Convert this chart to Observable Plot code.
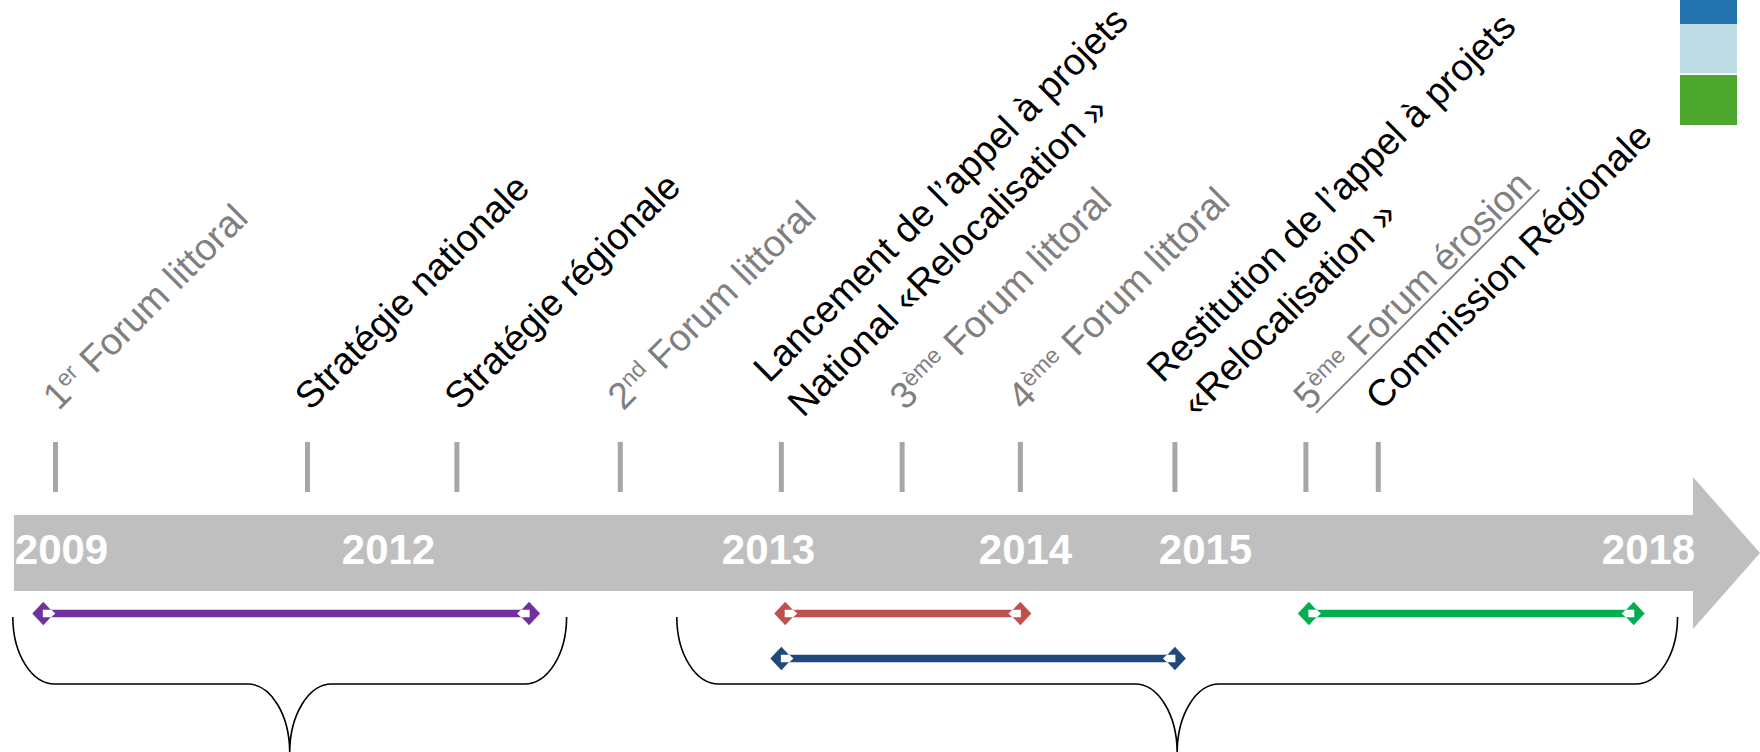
<!DOCTYPE html>
<html>
<head>
<meta charset="utf-8">
<script src="https://cdn.jsdelivr.net/npm/d3@7"></script>
<script src="https://cdn.jsdelivr.net/npm/@observablehq/plot@0.6"></script>
<style>
  html, body { margin: 0; padding: 0; background: #fff; }
  #chart svg { display: block; }
</style>
</head>
<body>
<div id="chart"></div>
<script>
// ---------------- DATA ----------------
// Year labels written on the timeline arrow (also the anchors of the piecewise time axis)
const yearLabels = [2009, 2012, 2013, 2014, 2015, 2018];

// Events (fractional year), label text ({..} = superscript), kind
const eventYears  = [2009.0, 2011.27, 2012.18, 2012.61, 2013.05, 2013.52, 2013.98, 2014.83, 2015.68, 2016.17];
const eventLabels = [
  "1{er} Forum littoral",
  "Stratégie nationale",
  "Stratégie régionale",
  "2{nd} Forum littoral",
  "Lancement de l’appel à projets\nNational «Relocalisation »",
  "3{ème} Forum littoral",
  "4{ème} Forum littoral",
  "Restitution de l’appel à projets\n«Relocalisation »",
  "5{ème} Forum érosion",
  "Commission Régionale"
];
const eventKinds = ["forum", "strategie", "strategie", "forum", "appel", "forum", "forum", "appel", "forum", "commission"];

// Period bars (start / end year, lane below the arrow)
const rangeNames = ["phase1", "phase2a", "phase2b", "phase3"];
const rangeStart = [2008.89, 2013.065, 2013.05, 2015.70];
const rangeEnd   = [2012.37, 2013.98, 2014.83, 2017.90];
const rangeLane  = [0, 0, 1, 0];

// Braces grouping the periods
const braceStart = [2008.62, 2012.76];
const braceEnd   = [2012.47, 2018.20];

// Where the arrow shaft begins
const axisStart = 2008.63;

// ---------------- STYLE / LAYOUT ----------------
const W = 1760, H = 752;
const yearPositions = [55, 388, 768, 1025, 1205, 1648]; // piecewise scale range
const L = {
  labelY: 411, tickTop: 442, tickBottom: 492,
  bandTop: 515, bandBottom: 591, headTop: 477, headBottom: 629, headLen: 67,
  yearBaseline: 563, lanes: [613, 658],
  braceTop: 617, braceHoriz: 684, braceBottom: 753
};
const rangePalette = {phase1: "#7030a0", phase2a: "#c0504d", phase2b: "#1f497d", phase3: "#00b050"};
const kindColor = k => k === "forum" ? "#7f7f7f" : "#000000";
const legendSwatches = ["#2273ae", "#bedde4", "#4ea72e"];
const FONT = "'Liberation Sans', Arial, Helvetica, sans-serif";
const svgNS = "http://www.w3.org/2000/svg";

// ---------------- TABLES ----------------
const events = eventYears.map((year, i) => ({year, label: eventLabels[i], kind: eventKinds[i]}));
const ranges = rangeNames.map((name, i) => ({name, start: rangeStart[i], end: rangeEnd[i], lane: rangeLane[i]}));
const braces = braceStart.map((s, i) => ({start: s, end: braceEnd[i]}));

// ---------------- CUSTOM SYMBOLS ----------------
const diamondSym = {draw(ctx) { ctx.moveTo(0, -11.7); ctx.lineTo(11, 0); ctx.lineTo(0, 11.7); ctx.lineTo(-11, 0); ctx.closePath(); }};
const capSym = {draw(ctx) { ctx.moveTo(-0.5, -3.7); ctx.lineTo(8, -3.7); ctx.lineTo(12, 0); ctx.lineTo(8, 3.7); ctx.lineTo(-0.5, 3.7); ctx.closePath(); }};

// ---------------- CUSTOM RENDER MARKS ----------------
function arrowMark(index, scales) {
  const x0 = scales.x(axisStart), hb = W - L.headLen, mid = (L.headTop + L.headBottom) / 2;
  const p = document.createElementNS(svgNS, "polygon");
  p.setAttribute("points", [
    [x0, L.bandTop], [hb, L.bandTop], [hb, L.headTop], [W, mid],
    [hb, L.headBottom], [hb, L.bandBottom], [x0, L.bandBottom]
  ].map(d => d.join(",")).join(" "));
  p.setAttribute("fill", "#bfbfbf");
  return p;
}

function braceMark(index, scales) {
  const g = document.createElementNS(svgNS, "g");
  const k = 0.552, t = L.braceTop, h = L.braceHoriz, b = L.braceBottom;
  const ax = 42, ay = h - t, cx = 42, cy = b - h;
  for (const br of braces) {
    const x1 = scales.x(br.start), x2 = scales.x(br.end), m = (x1 + x2) / 2;
    const p = d3.path();
    p.moveTo(x1, t);
    p.bezierCurveTo(x1, t + k * ay, x1 + ax - k * ax, h, x1 + ax, h);
    p.lineTo(m - cx, h);
    p.bezierCurveTo(m - cx + k * cx, h, m, b - k * cy, m, b);
    p.bezierCurveTo(m, b - k * cy, m + cx - k * cx, h, m + cx, h);
    p.lineTo(x2 - ax, h);
    p.bezierCurveTo(x2 - ax + k * ax, h, x2, t + k * ay, x2, t);
    const el = document.createElementNS(svgNS, "path");
    el.setAttribute("d", p.toString());
    el.setAttribute("fill", "none");
    el.setAttribute("stroke", "#000");
    el.setAttribute("stroke-width", 1.6);
    g.appendChild(el);
  }
  return g;
}

function legendMark() {
  const g = document.createElementNS(svgNS, "g");
  const ys = [[0, 24], [24, 73.3], [75, 125]];
  legendSwatches.forEach((c, i) => {
    const r = document.createElementNS(svgNS, "rect");
    r.setAttribute("x", 1680); r.setAttribute("width", 57);
    r.setAttribute("y", ys[i][0]); r.setAttribute("height", ys[i][1] - ys[i][0]);
    r.setAttribute("fill", c);
    g.appendChild(r);
  });
  return g;
}

// ---------------- PLOT ----------------
const single = events.filter(d => !d.label.includes("\n"));
const multi = events.filter(d => d.label.includes("\n"));
const labelOpts = {
  x: "year", y: () => L.labelY, text: "label", rotate: -45,
  textAnchor: "start", lineAnchor: "bottom", lineHeight: 1.3,
  fontSize: 37.5, fill: d => kindColor(d.kind)
};

const chart = Plot.plot({
  width: W, height: H, margin: 0,
  style: {fontFamily: FONT, background: "#fff", overflow: "visible"},
  x: {type: "linear", domain: yearLabels, range: yearPositions, axis: null},
  y: {type: "identity", axis: null},
  marks: [
    arrowMark,
    Plot.text(yearLabels.slice(0, 1), {x: d => d, y: () => L.yearBaseline, text: d => String(d), dx: 6,
      fill: "#fff", fontSize: 42, fontWeight: "bold", textAnchor: "middle", lineAnchor: "bottom"}),
    Plot.text(yearLabels.slice(1), {x: d => d, y: () => L.yearBaseline, text: d => String(d),
      fill: "#fff", fontSize: 42, fontWeight: "bold", textAnchor: "middle", lineAnchor: "bottom"}),
    Plot.ruleX(events, {x: "year", y1: () => L.tickTop, y2: () => L.tickBottom, stroke: "#a6a6a6", strokeWidth: 5}),
    Plot.text(single, {...labelOpts, dx: 3}),
    Plot.text(multi, {...labelOpts, dx: 22, dy: 7}),
    Plot.ruleY(ranges, {x1: "start", x2: "end", y: d => L.lanes[d.lane], stroke: d => rangePalette[d.name], strokeWidth: 7.5}),
    Plot.dot(ranges, {x: "start", y: d => L.lanes[d.lane], symbol: diamondSym, fill: d => rangePalette[d.name], stroke: null}),
    Plot.dot(ranges, {x: "end", y: d => L.lanes[d.lane], symbol: diamondSym, fill: d => rangePalette[d.name], stroke: null}),
    Plot.dot(ranges, {x: "start", y: d => L.lanes[d.lane], symbol: capSym, fill: "#fff", stroke: null}),
    Plot.dot(ranges, {x: "end", y: d => L.lanes[d.lane], symbol: capSym, rotate: 180, fill: "#fff", stroke: null}),
    braceMark,
    legendMark
  ]
});

document.getElementById("chart").appendChild(chart);

// Superscripts ({..}) and underline on the erosion forum label
chart.querySelectorAll("text").forEach(t => {
  const targets = t.querySelectorAll("tspan").length ? Array.from(t.querySelectorAll("tspan")) : [t];
  targets.forEach(el => {
    const s = el.textContent;
    if (!s.includes("{")) return;
    el.textContent = "";
    s.split(/(\{[^}]*\})/).forEach(part => {
      if (!part) return;
      if (part.startsWith("{")) {
        const sup = document.createElementNS(svgNS, "tspan");
        sup.setAttribute("baseline-shift", "12px");
        sup.setAttribute("font-size", "23px");
        sup.textContent = part.slice(1, -1);
        el.appendChild(sup);
      } else {
        el.appendChild(document.createTextNode(part));
      }
    });
  });
  if (t.textContent.includes("érosion")) {
    const len = t.getComputedTextLength();
    const u = document.createElementNS(svgNS, "line");
    u.setAttribute("transform", t.getAttribute("transform") || "");
    u.setAttribute("x1", 4); u.setAttribute("x2", len + 2);
    u.setAttribute("y1", 6); u.setAttribute("y2", 6);
    u.setAttribute("stroke", "#7f7f7f"); u.setAttribute("stroke-width", 1.8);
    t.parentNode.appendChild(u);
  }
});
</script>
</body>
</html>
